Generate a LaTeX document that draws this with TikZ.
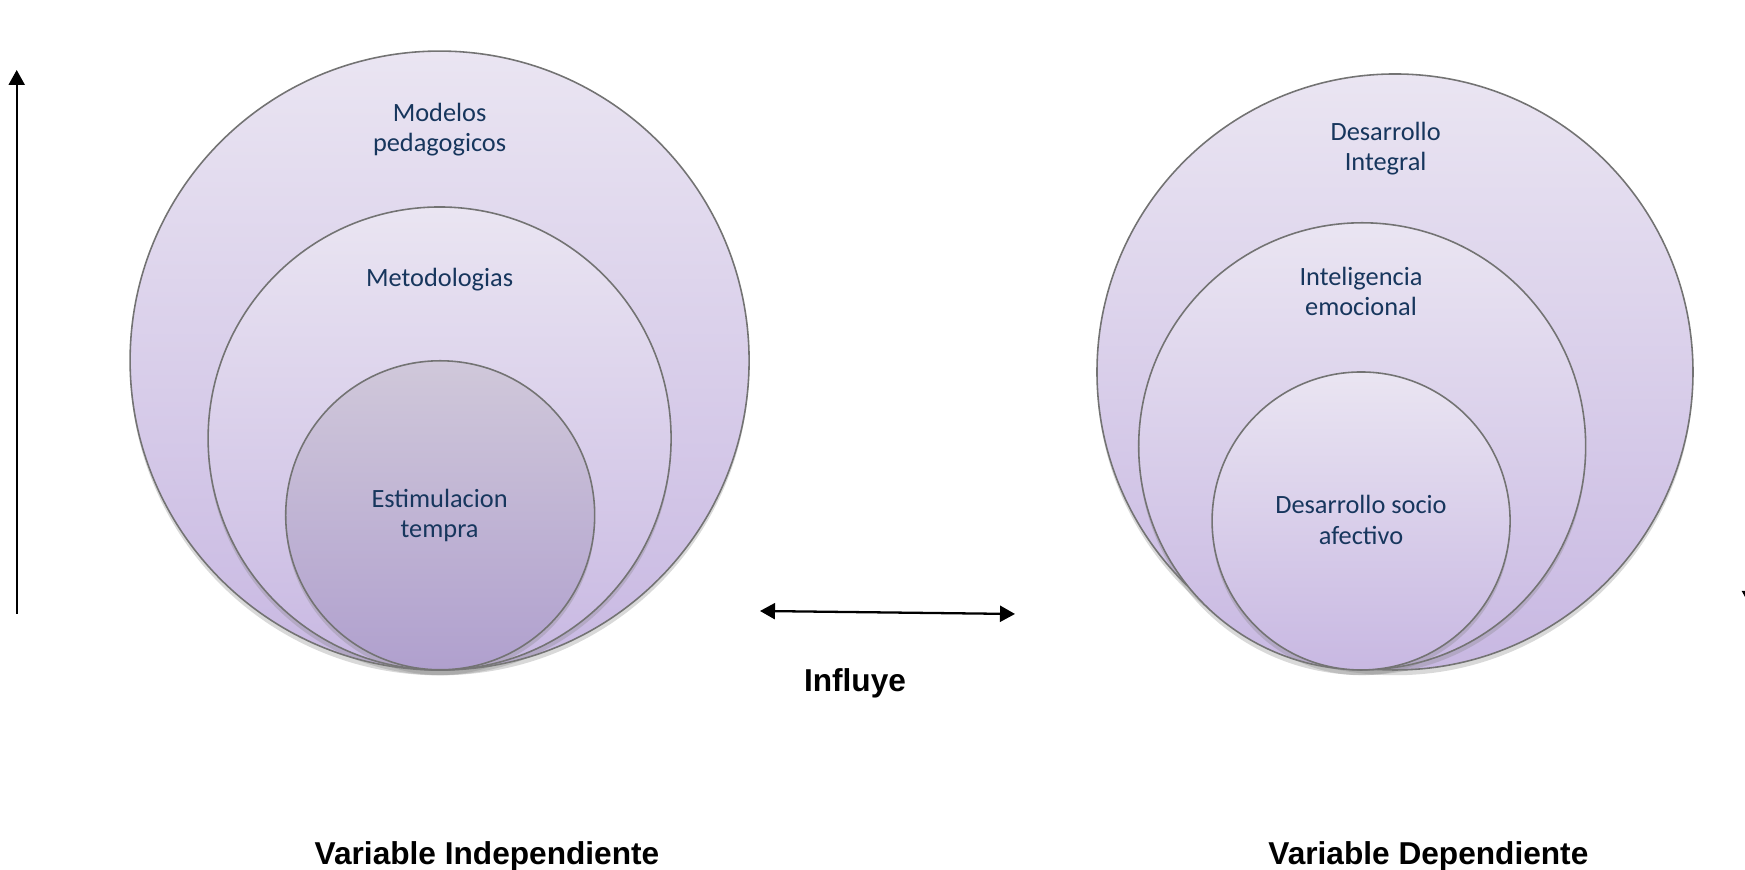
\documentclass[tikz,border=0pt]{standalone}
\usepackage{fontspec}
\setmainfont{Carlito}
\newfontfamily\arialfont{Liberation Sans}
\usetikzlibrary{arrows.meta,shadows}
\definecolor{textblue}{RGB}{23,54,93}
\definecolor{lilaclight}{RGB}{234,229,242}
\definecolor{lilacdark}{RGB}{200,184,226}
\definecolor{greylight}{RGB}{208,200,218}
\definecolor{greydark}{RGB}{176,160,206}
\begin{document}
\begin{tikzpicture}[
        >={Triangle[width=0.16cm,length=0.15cm]},
        ring/.style={circle, draw=black!55, line width=0.45pt, inner sep=0pt, top color=lilaclight, bottom color=lilacdark, drop shadow={opacity=0.3, shadow xshift=0pt, shadow yshift=-1.5pt}},
        core/.style={ring, top color=greylight, bottom color=greydark},
        ring text/.style={align=center, text=textblue, font=\fontsize{7.5}{8.6}\selectfont},
        var text/.style={font=\arialfont\bfseries\fontsize{9}{11}\selectfont},
        axis/.style={draw, line width=0.65pt},
    ]
	\useasboundingbox (0,0) rectangle (17.45,8.70);
	\node[ring, minimum size=6.19cm] (vi_1) at (4.396,5.094) {};
	\node[ring, minimum size=4.63cm] (vi_2) at (4.396,4.315) {};
	\node[core, minimum size=3.09cm] (vi_3) at (4.402,3.547) {};
	\node[ring, minimum size=5.96cm] (vd_1) at (13.95,4.98) {};
	\node[ring, minimum size=4.47cm] (vd_2) at (13.622,4.237) {};
	\node[ring, minimum size=2.98cm] (vd_3) at (13.611,3.49) {};
	\node[ring text] (t_vi_1) at (4.396,7.40) {Modelos\\pedagogicos};
	\node[ring text] (t_vi_2) at (4.396,5.905) {Metodologias};
	\node[ring text] (t_vi_3) at (4.396,3.545) {Estimulacion\\tempra};
	\node[ring text] (t_vd_1) at (13.856,7.21) {Desarrollo\\Integral};
	\node[ring text] (t_vd_2) at (13.61,5.785) {Inteligencia\\emocional};
	\node[ring text] (t_vd_3) at (13.61,3.50) {Desarrollo socio\\afectivo};
	\coordinate (up_0) at (0.167,2.56);
	\coordinate (up_1) at (0.167,8.0);
	\coordinate (down_0) at (17.50,8.0);
	\coordinate (down_1) at (17.50,2.64);
	\coordinate (inf_0) at (7.60,2.59);
	\coordinate (inf_1) at (10.15,2.56);
	\draw[axis, ->] (up_0) -- (up_1);
	\draw[axis, ->] (down_0) -- (down_1);
	\draw[axis, <->] (inf_0) -- (inf_1);
	\node[var text] (influye) at (8.55,1.87) {Influye};
	\node[var text] (v_ind) at (4.87,0.135) {Variable Independiente};
	\node[var text] (v_dep) at (14.284,0.135) {Variable Dependiente};
    \end{tikzpicture}
\end{document}
